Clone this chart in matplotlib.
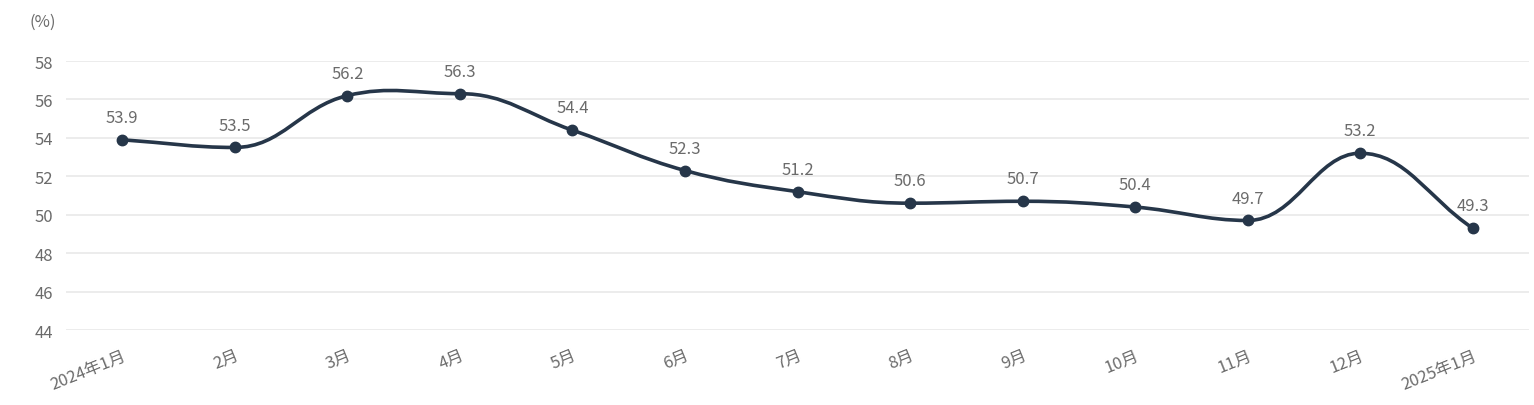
import numpy as np
import matplotlib
matplotlib.use("Agg")
import matplotlib.pyplot as plt
from matplotlib.path import Path
from matplotlib.patches import PathPatch

plt.rcParams['font.family'] = ['Noto Sans CJK SC', 'DejaVu Sans']

months = ["2024年1月", "2月", "3月", "4月", "5月", "6月", "7月",
          "8月", "9月", "10月", "11月", "12月", "2025年1月"]
values = [53.9, 53.5, 56.2, 56.3, 54.4, 52.3, 51.2, 50.6, 50.7, 50.4, 49.7, 53.2, 49.3]
yticks = [44, 46, 48, 50, 52, 54, 56, 58]

LINE = "#263649"
GREY = "#6b6b6b"


def smooth_path(x, y, sy, smooth=0.4):
    "bezier through the points, flat at local peaks and dips"
    pts = np.column_stack([x, np.array(y) * sy])
    n = len(pts)
    cps = []
    for i in range(n):
        prev = pts[max(i - 1, 0)]
        nxt = pts[min(i + 1, n - 1)]
        cur = pts[i]
        v = (nxt - prev) * smooth
        if 0 < i < n - 1 and (cur[1] - prev[1]) * (nxt[1] - cur[1]) <= 0:
            v[1] = 0
        d0 = np.hypot(*(cur - prev))
        d1 = np.hypot(*(cur - nxt))
        s = d0 + d1
        cps.append((cur - v * d0 / s, cur + v * d1 / s))
    verts = [(pts[0][0], pts[0][1] / sy)]
    codes = [Path.MOVETO]
    for i in range(n - 1):
        for p in (cps[i][1], cps[i + 1][0], pts[i + 1]):
            verts.append((p[0], p[1] / sy))
            codes.append(Path.CURVE4)
    return Path(verts, codes)


fig = plt.figure(figsize=(15.34, 4.06), dpi=100)
ax = fig.add_axes([66 / 1534, 75 / 406, 1463 / 1534, 269 / 406])

x = np.arange(len(months))
ax.set_xlim(-0.5, len(months) - 0.5)
ax.set_ylim(44, 58)

# pixels per unit: x 112.6 px/category, y 19.2 px/unit
sy = 19.2 / 112.6
ax.add_patch(PathPatch(smooth_path(x, values, sy), fill=False,
                       edgecolor=LINE, lw=2.6, zorder=3))
ax.plot(x, values, 'o', color=LINE, ms=7.5, zorder=4)

for xi, v in zip(x, values):
    ax.annotate(f"{v}", (xi, v), xytext=(0, 10), textcoords="offset points",
                ha="center", va="bottom", fontsize=12, color=GREY)

ax.set_yticks(yticks)
ax.set_yticklabels([str(t) for t in yticks], fontsize=12, color=GREY)
ax.set_xticks(x)
ax.set_xticklabels(months, rotation=22, ha="right", rotation_mode="anchor",
                   fontsize=12, color=GREY)
ax.tick_params(axis="both", length=0)
ax.tick_params(axis="y", pad=9)
ax.tick_params(axis="x", pad=12)
ax.grid(axis="y", color="#ebebeb", lw=1.3)
ax.set_axisbelow(True)
for sp in ax.spines.values():
    sp.set_visible(False)

fig.text(43 / 1534, 1 - 22 / 406, "(%)", ha="center", va="center",
         fontsize=12, color=GREY)

fig.savefig("out.png", dpi=100)
